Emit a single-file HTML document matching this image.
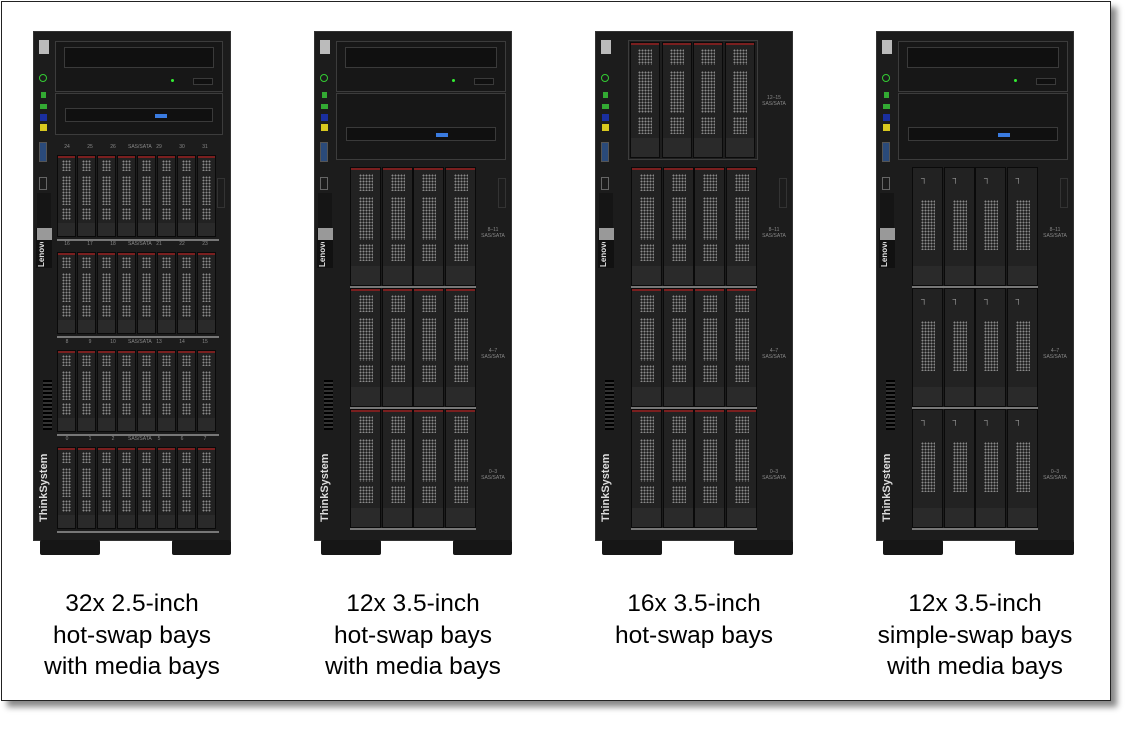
<!DOCTYPE html>
<html><head><meta charset="utf-8">
<style>
*{margin:0;padding:0;box-sizing:border-box}
body{width:1141px;height:732px;background:#fff;position:relative;overflow:hidden;font-family:"Liberation Sans",sans-serif}
#frame{position:absolute;left:1px;top:1px;width:1110px;height:700px;border:1px solid #222;background:#fff;box-shadow:6px 6px 6px #888}
.a{position:absolute}
.body{background:#1c1c1c;border:1px solid #333}
.bay{background:#171717;border:1px solid #3c3c3c}
.slot{background:#101010;border:1px solid #3a3a3a}
.drv{background:#222;border:1px solid #0a0a0a}
.red{background:#7a1f1f}
.gr{background-color:#151515;background-image:radial-gradient(circle,#8a8a8a 0.9px,transparent 1.3px);background-size:3px 3px}
.foot{background:#161616;border-radius:2px}
.lab{position:absolute;width:260px;text-align:center;font-size:24.5px;line-height:31.5px;color:#000}
.tiny{position:absolute;color:#888;font-size:5px;text-align:center;line-height:6px}
</style></head><body>
<div id="frame"></div>
<div id="root"></div>
<div class="lab" style="left:2px;top:588px">32x 2.5-inch<br>hot-swap bays<br>with media bays</div>
<div class="lab" style="left:283px;top:588px">12x 3.5-inch<br>hot-swap bays<br>with media bays</div>
<div class="lab" style="left:564px;top:588px">16x 3.5-inch<br>hot-swap bays</div>
<div class="lab" style="left:845px;top:588px">12x 3.5-inch<br>simple-swap bays<br>with media bays</div>
<script>
var h='';
function r(x,y,w,hh,c,st){h+='<div class="a '+c+'" style="left:'+x+'px;top:'+y+'px;width:'+w+'px;height:'+hh+'px;'+(st||'')+'"></div>';}
function t(x,y,w,s){h+='<div class="tiny" style="left:'+x+'px;top:'+y+'px;width:'+w+'px">'+s+'</div>';}
function drive(x,y,w,hh,simple){
 r(x,y,w,hh,'drv');
 if(!simple) r(x+1,y+1,w-2,2,'red');
 var gw=Math.max(6,Math.round(w*0.45)),gx=x+Math.round((w-gw)/2);
 if(simple){
  r(gx,y+hh*0.28,gw,hh*0.42,'gr');
  h+='<div class="a" style="left:'+(gx)+'px;top:'+(y+6)+'px;color:#999;font-size:9px">&#x2510;</div>';
 }else{
  r(gx,y+hh*0.06,gw,hh*0.14,'gr');
  r(gx,y+hh*0.25,gw,hh*0.36,'gr');
  r(gx,y+hh*0.65,gw,hh*0.14,'gr');
 }
 r(x+1,y+hh*0.83,w-2,hh*0.16,'',"background:#2a2a2a");
}
function tower(X,type){
 r(X,31,198,510,'body');
 r(X+7,540,60,15,'foot');r(X+139,540,59,15,'foot');
 r(X+6,40,10,14,'',"background:#bbb");
 h+='<div class="a" style="left:'+(X+6)+'px;top:74px;width:8px;height:8px;border:1.5px solid #3c3;border-radius:50%"></div>';
 r(X+8,92,5,6,'',"background:#3a3");
 r(X+7,104,7,5,'',"background:#3a3");
 r(X+7,114,7,7,'',"background:#1a2fa0");
 r(X+7,124,7,7,'',"background:#d8c820");
 r(X+6,142,8,20,'',"background:#2a4a7a;border:1px solid #555");
 r(X+6,177,8,13,'',"border:1px solid #666");
 r(X+4,193,14,36,'',"background:#151515");
 r(X+3,228,16,40,'',"background:#111");
 r(X+4,228,15,12,'',"background:#999");
 h+='<div class="a" style="left:'+(X+4)+'px;top:242px;width:15px;height:25px;overflow:hidden;color:#ddd;font-size:8px;font-weight:bold;writing-mode:vertical-rl;transform:rotate(180deg)">Lenovo</div>';
 r(X+10,380,9,50,'',"background:repeating-linear-gradient(#000 0 2px,#333 2px 4px)");
 h+='<div class="a" style="left:'+(X+5)+'px;top:462px;width:14px;height:60px;color:#ddd;font-size:11px;font-weight:bold;writing-mode:vertical-rl;transform:rotate(180deg)">ThinkSystem</div>';
 r(X+184,178,8,30,'',"border:1px solid #333");
 if(type==3){
  r(X+33,40,130,120,'bay',"background:#1e1e1e");
  for(var i=0;i<4;i++)drive(X+35+i*31.5,42,30,116,false);
  t(X+164,95,30,'12–15<br>SAS/SATA');
 }else{
   var mw=type==1?168:170, mx=X+22;
   r(mx,41,mw,51,'bay');r(mx+9,47,mw-18,21,'slot');
   r(mx+116,79,3,3,'',"background:#3e3;border-radius:50%");r(mx+138,78,20,7,'slot');
   r(mx,93,mw,type==1?42:67,'bay');
   var sy=type==1?108:127;r(mx+10,sy,mw-20,14,'slot');r(mx+100,sy+6,12,4,'',"background:#3a7be0");
 }
 if(type==1){
  var ys=[155,252,350,447],lbl=[['24','25','26','SAS/SATA','29','30','31'],['16','17','18','SAS/SATA','21','22','23'],['8','9','10','SAS/SATA','13','14','15'],['0','1','2','SAS/SATA','5','6','7']];
  ys.forEach(function(y,k){
   var L=lbl[k];for(var j=0;j<7;j++)t(X+26+j*23,y-11,16,L[j]);
   for(var i=0;i<8;i++)drive(X+24+i*20,y,19,82,false);
   r(X+24,y+84,162,2,'',"background:#777");
  });
 }else{
  var ys=[167,288,409],lb=['8–11','4–7','0–3'];
  ys.forEach(function(y,k){
   for(var i=0;i<4;i++)drive(X+36+i*31.5,y,31,119,type==4);
   r(X+36,y+119,126,2,'',"background:#777");
   t(X+164,y+60,30,lb[k]+'<br>SAS/SATA');
  });
 }
}
tower(33,1);tower(314,2);tower(595,3);tower(876,4);
document.getElementById('root').innerHTML=h;
</script>
</body></html>
